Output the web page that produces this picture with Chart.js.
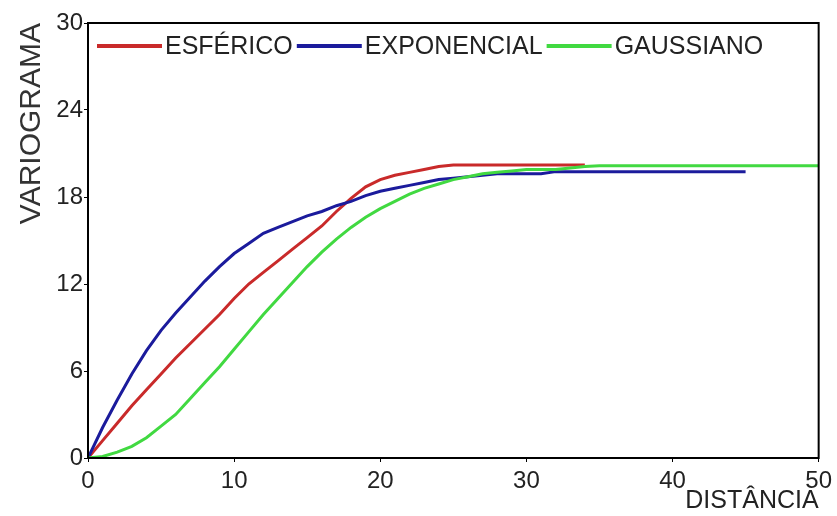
<!DOCTYPE html>
<html>
<head>
<meta charset="utf-8">
<script src="https://cdn.jsdelivr.net/npm/chart.js@4.4.0/dist/chart.umd.min.js"></script>
<style>
  html, body { margin: 0; padding: 0; background: #fff; }
  #wrap { width: 837px; height: 516px; }
</style>
</head>
<body>
<div id="wrap"><canvas id="variograma"></canvas></div>
<script>
// distancias (h), passo 1
const distancias = [0,1,2,3,4,5,6,7,8,9,10,11,12,13,14,15,16,17,18,19,20,21,22,23,24,25,26,27,28,29,30,31,32,33,34,35,36,37,38,39,40,41,42,43,44,45,46,47,48,49,50]

const esferico = [0,1.2,2.4,3.6,4.7,5.8,6.9,7.9,8.9,9.9,11.0,12.0,12.8,13.6,14.4,15.2,16.0,17.0,17.9,18.7,19.2,19.5,19.7,19.9,20.1,20.2,20.2,20.2,20.2,20.2,20.2,20.2,20.2,20.2,20.2]
const exponencial = [0,2.1,4.0,5.8,7.4,8.8,10.0,11.1,12.2,13.2,14.1,14.8,15.5,15.9,16.3,16.7,17.0,17.4,17.7,18.1,18.4,18.6,18.8,19.0,19.2,19.3,19.4,19.5,19.6,19.6,19.6,19.6,19.75,19.75,19.75,19.75,19.75,19.75,19.75,19.75,19.75,19.75,19.75,19.75,19.75,19.75]
const gaussiano = [0,0.1,0.4,0.8,1.4,2.2,3.0,4.1,5.2,6.3,7.5,8.7,9.9,11.0,12.1,13.2,14.2,15.1,15.9,16.6,17.2,17.7,18.2,18.6,18.9,19.2,19.4,19.6,19.7,19.8,19.9,19.9,19.9,20.0,20.1,20.15,20.15,20.15,20.15,20.15,20.15,20.15,20.15,20.15,20.15,20.15,20.15,20.15,20.15,20.15,20.15]

const ticksX = [0,10,20,30,40,50]
const ticksY = [0,6,12,18,24,30]

function pontos(valores) {
  return valores.map((v, i) => ({ x: distancias[i], y: v }))
}

const fonte = 'Liberation Sans, Arial, sans-serif'

// moldura em volta da area do grafico
const moldura = {
  id: 'moldura',
  afterDatasetsDraw(chart) {
    const a = chart.chartArea
    const ctx = chart.ctx
    ctx.save()
    ctx.strokeStyle = '#000'
    ctx.lineWidth = 2
    ctx.strokeRect(a.left, a.top, a.right - a.left, a.bottom - a.top)
    ctx.restore()
  }
}

// legenda numa linha so, dentro da area do grafico
const legendaDentro = {
  id: 'legendaDentro',
  afterDraw(chart) {
    const a = chart.chartArea
    const ctx = chart.ctx
    const y = a.top + 23
    let x = a.left + 9
    ctx.save()
    ctx.font = '25px ' + fonte
    ctx.textBaseline = 'middle'
    chart.data.datasets.forEach(ds => {
      ctx.strokeStyle = ds.borderColor
      ctx.lineWidth = 4
      ctx.beginPath()
      ctx.moveTo(x, y)
      ctx.lineTo(x + 65, y)
      ctx.stroke()
      x += 68
      ctx.fillStyle = '#222'
      ctx.fillText(ds.label, x, y + 1)
      x += ctx.measureText(ds.label).width + 4
    })
    ctx.restore()
  }
}

new Chart(document.getElementById('variograma'), {
  type: 'line',
  data: {
    datasets: [
      { label: 'ESFÉRICO', data: pontos(esferico), borderColor: '#c92a2a', backgroundColor: '#c92a2a', borderWidth: 3, pointRadius: 0, order: 3 },
      { label: 'EXPONENCIAL', data: pontos(exponencial), borderColor: '#1b1b9c', backgroundColor: '#1b1b9c', borderWidth: 3, pointRadius: 0, order: 2 },
      { label: 'GAUSSIANO', data: pontos(gaussiano), borderColor: '#41d941', backgroundColor: '#41d941', borderWidth: 3, pointRadius: 0, order: 1 }
    ]
  },
  options: {
    responsive: true,
    maintainAspectRatio: false,
    animation: false,
    layout: { padding: { top: 23, right: 17, left: 0, bottom: 0 } },
    plugins: {
      tooltip: { enabled: false },
      legend: { display: false }
    },
    scales: {
      x: {
        type: 'linear',
        min: 0, max: 50,
        afterBuildTicks: (s) => { s.ticks = ticksX.map(v => ({ value: v })) },
        grid: { drawOnChartArea: false, drawTicks: true, tickLength: 4, color: '#000' },
        border: { display: true, color: '#000', width: 2 },
        ticks: { color: '#222', font: { family: fonte, size: 24 }, padding: 5, maxRotation: 0 },
        title: { display: true, text: 'DISTÂNCIA', align: 'end', color: '#222', font: { family: fonte, size: 25 }, padding: { top: -12, bottom: 0 } },
        afterFit: (s) => { s.height = 58 }
      },
      y: {
        min: 0, max: 30,
        afterBuildTicks: (s) => { s.ticks = ticksY.map(v => ({ value: v })) },
        grid: { drawOnChartArea: false, drawTicks: true, tickLength: 4, color: '#000' },
        border: { display: true, color: '#000', width: 2 },
        ticks: { color: '#222', font: { family: fonte, size: 24 }, padding: 1 },
        title: { display: true, text: 'VARIOGRAMA', align: 'end', color: '#333', font: { family: fonte, size: 30 }, padding: { top: 14, bottom: 4 } },
        afterFit: (s) => { s.width = 88 }
      }
    }
  },
  plugins: [moldura, legendaDentro]
})
</script>
</body>
</html>
